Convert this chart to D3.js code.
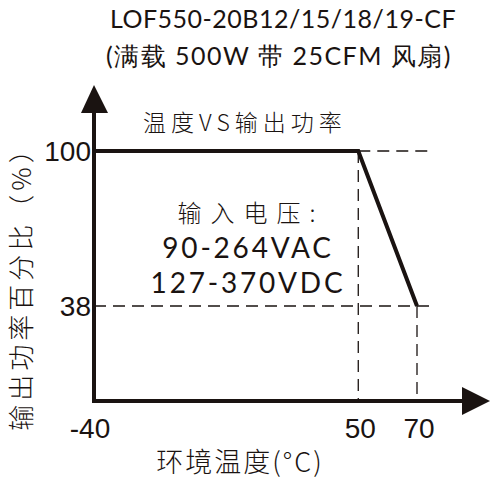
<!DOCTYPE html>
<html>
<head>
<meta charset="utf-8">
<script src="https://cdn.jsdelivr.net/npm/d3@7"></script>
<style>
  body { margin: 0; background: #fff; }
  text { fill: #1a1311; }
</style>
</head>
<body>
<div class="chart"></div>
<script>
var svgWidth = 490;
var svgHeight = 480;

// derating curve: ambient temperature vs output power %
var temps = [-40, 50, 70];
var powers = [100, 100, 38];
var xTicks = [-40, 50, 70];
var yTicks = [100, 38];

var titleLines = ["LOF550-20B12/15/18/19-CF", "(满载 500W 带 25CFM 风扇)"];
var subTitle = "温度VS输出功率";
var noteLines = ["输入电压:", "90-264VAC", "127-370VDC"];
var xTitle = "环境温度(°C)";
var yTitle = "输出功率百分比（%）";

var ink = "#1a1311";
var cjk = "'Noto Sans CJK SC', 'Noto Sans', sans-serif";
var latin = "'Century Gothic', 'Lato', 'Noto Sans', sans-serif";
var narrow = "'Liberation Sans Narrow', 'Liberation Sans', sans-serif";

var svg = d3.select(".chart")
    .append("svg")
    .attr("width", svgWidth)
    .attr("height", svgHeight);

var xScale = d3.scaleLinear().domain([-40, 70]).range([94, 417]);
var yScale = d3.scaleLinear().domain([0, 100]).range([401, 151]);

// titles
svg.append("text")
    .attr("x", 283).attr("y", 28)
    .attr("text-anchor", "middle")
    .style("font-family", latin)
    .style("font-size", "25px")
    .style("letter-spacing", "0.5px")
    .text(titleLines[0]);

svg.append("text")
    .attr("x", 279).attr("y", 65)
    .attr("text-anchor", "middle")
    .style("font-family", latin)
    .style("font-size", "25px")
    .style("letter-spacing", "1.5px")
    .text(titleLines[1]);

svg.append("text")
    .attr("x", 143).attr("y", 131)
    .style("font-family", cjk)
    .style("font-size", "23px")
    .style("font-weight", 300)
    .style("letter-spacing", "5px")
    .text(subTitle);

// dashed guide lines
var dash = svg.append("g")
    .attr("stroke", ink)
    .attr("stroke-width", 1.3)
    .attr("stroke-dasharray", "12,7")
    .attr("fill", "none");

dash.append("line")
    .attr("x1", xScale(50)).attr("x2", 433)
    .attr("y1", yScale(100)).attr("y2", yScale(100));
dash.append("line")
    .attr("x1", xScale(-40)).attr("x2", 433)
    .attr("y1", yScale(38)).attr("y2", yScale(38));
dash.append("line")
    .attr("x1", xScale(50)).attr("x2", xScale(50))
    .attr("y1", yScale(100)).attr("y2", yScale(0));
dash.append("line")
    .attr("x1", xScale(70)).attr("x2", xScale(70))
    .attr("y1", yScale(38)).attr("y2", yScale(0));

// axes with arrows
svg.append("line")
    .attr("x1", xScale(-40)).attr("x2", xScale(-40))
    .attr("y1", yScale(0) + 2).attr("y2", 110)
    .attr("stroke", ink).attr("stroke-width", 4);
svg.append("path")
    .attr("d", "M" + xScale(-40) + ",85 L" + (xScale(-40) - 13) + ",113 L" + (xScale(-40) + 14) + ",113 Z")
    .attr("fill", ink);

svg.append("line")
    .attr("x1", xScale(-40) - 2).attr("x2", 465)
    .attr("y1", yScale(0)).attr("y2", yScale(0))
    .attr("stroke", ink).attr("stroke-width", 4);
svg.append("path")
    .attr("d", "M490," + yScale(0) + " L462," + (yScale(0) - 14) + " L462," + (yScale(0) + 14) + " Z")
    .attr("fill", ink);

// derating curve
var line = d3.line()
    .x(function (d, i) { return xScale(temps[i]); })
    .y(function (d) { return yScale(d); });

svg.append("path")
    .datum(powers)
    .attr("d", line)
    .attr("fill", "none")
    .attr("stroke", ink)
    .attr("stroke-width", 4)
    .attr("stroke-linejoin", "miter");

// tick labels
svg.selectAll(".ylab")
    .data(yTicks)
    .enter()
    .append("text")
    .attr("x", 91)
    .attr("y", d => yScale(d) + 10)
    .attr("text-anchor", "end")
    .style("font-family", narrow)
    .style("font-size", "28px")
    .text(d => d);

svg.selectAll(".xlab")
    .data(xTicks)
    .enter()
    .append("text")
    .attr("x", d => xScale(d) + (d === -40 ? -4 : 2))
    .attr("y", 438)
    .attr("text-anchor", "middle")
    .style("font-family", narrow)
    .style("font-size", "28px")
    .text(d => d);

// note in the middle
svg.append("text")
    .attr("x", 251).attr("y", 222)
    .attr("text-anchor", "middle")
    .style("font-family", cjk)
    .style("font-size", "24px")
    .style("font-weight", 300)
    .style("letter-spacing", "9px")
    .text(noteLines[0]);

svg.selectAll(".note")
    .data(noteLines.slice(1))
    .enter()
    .append("text")
    .attr("x", 248)
    .attr("y", (d, i) => 258 + i * 35)
    .attr("text-anchor", "middle")
    .style("font-family", latin)
    .style("font-size", "28px")
    .style("letter-spacing", "2.8px")
    .text(d => d);

// axis titles
svg.append("text")
    .attr("x", 240).attr("y", 472)
    .attr("text-anchor", "middle")
    .style("font-family", cjk)
    .style("font-size", "27px")
    .style("font-weight", 300)
    .style("letter-spacing", "2px")
    .text(xTitle);

svg.append("text")
    .attr("transform", "translate(31,282) rotate(-90)")
    .attr("text-anchor", "middle")
    .style("font-family", cjk)
    .style("font-size", "26px")
    .style("font-weight", 300)
    .style("letter-spacing", "4px")
    .text(yTitle);
</script>
</body>
</html>
